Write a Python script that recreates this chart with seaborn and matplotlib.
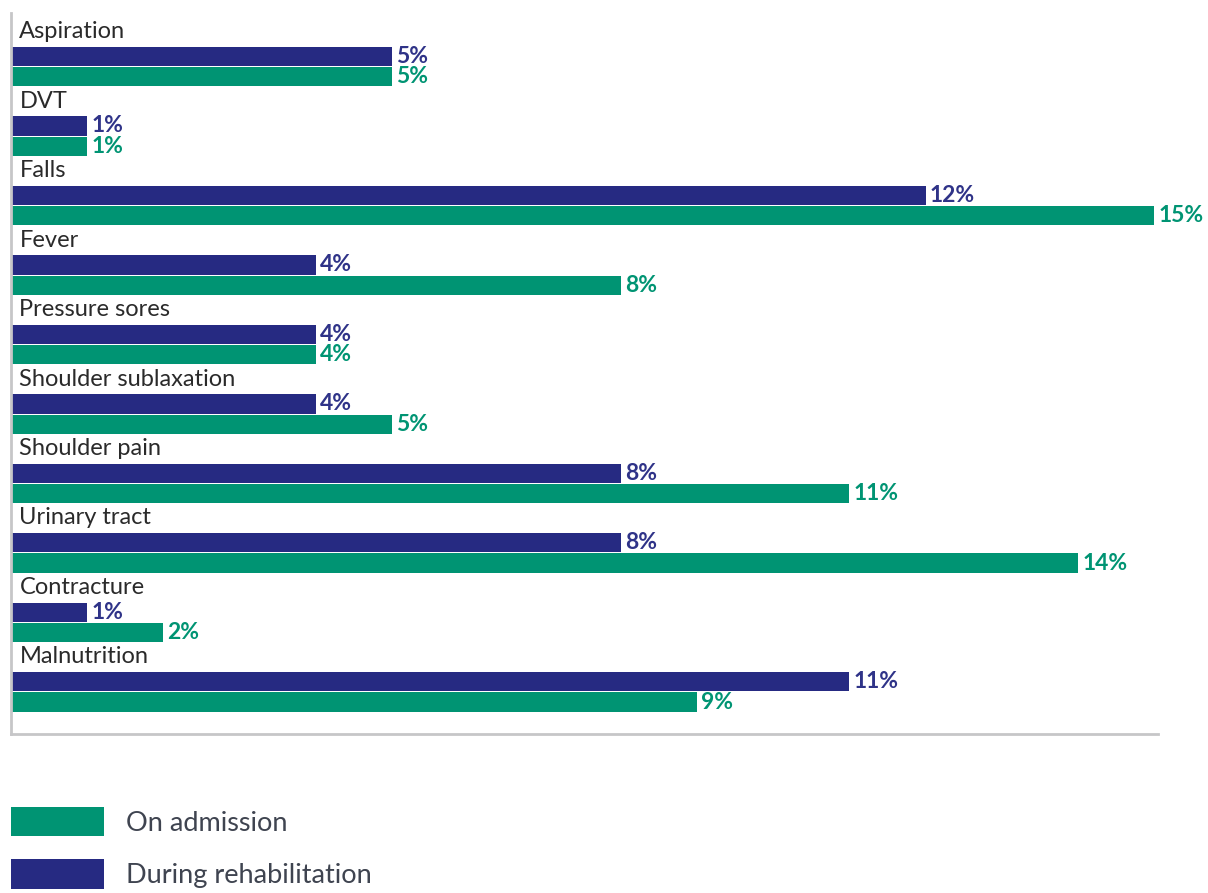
import matplotlib
matplotlib.use("Agg")
import matplotlib.pyplot as plt
import seaborn as sns
import pandas as pd
from matplotlib.patches import Patch

categories = ["Aspiration", "DVT", "Falls", "Fever", "Pressure sores",
              "Shoulder sublaxation", "Shoulder pain", "Urinary tract",
              "Contracture", "Malnutrition"]
during_rehab = [5, 1, 12, 4, 4, 4, 8, 8, 1, 11]
on_admission = [5, 1, 15, 8, 4, 5, 11, 14, 2, 9]
series_names = ["During rehabilitation", "On admission"]
colors = {"During rehabilitation": "#262a82", "On admission": "#009473"}

df = pd.DataFrame({
    "category": categories * 2,
    "value": during_rehab + on_admission,
    "series": [series_names[0]] * len(categories) + [series_names[1]] * len(categories),
})

sns.set_style("white")
plt.rcParams["font.family"] = ["Lato", "DejaVu Sans"]

W, H = 1208, 893
fig = plt.figure(figsize=(W / 100, H / 100), dpi=100)
ax = fig.add_axes([11 / W, 1 - 734 / H, (1158 - 11) / W, (734 - 13) / H])

sns.barplot(data=df, y="category", x="value", hue="series", orient="h",
            hue_order=series_names, palette=colors, width=0.58, gap=0.05,
            legend=False, ax=ax, linewidth=0, saturation=1)

ax.set_xlim(0, 15.05)
ax.set_ylim(9.605, -0.771)
ax.set_xlabel("")
ax.set_ylabel("")
ax.set_xticks([])
ax.set_yticks([])
for s in ["top", "right"]:
    ax.spines[s].set_visible(False)
for s in ["left", "bottom"]:
    ax.spines[s].set_color("#c6c6c8")
    ax.spines[s].set_linewidth(2)

label_colors = {"During rehabilitation": "#2f3388", "On admission": "#009473"}
for cont, name in zip(ax.containers, series_names):
    ax.bar_label(cont, fmt="%d%%", padding=3, color=label_colors[name],
                 fontsize=16.5, fontweight="bold")

for i, cat in enumerate(categories):
    ax.text(0.11, i - 0.41, cat, fontsize=17, color="#2a2a2a",
            va="baseline", ha="left")

fs = 19.5
px = fs * 100 / 72
handles = [Patch(facecolor=colors["On admission"], edgecolor="none"),
           Patch(facecolor=colors["During rehabilitation"], edgecolor="none")]
fig.legend(handles, ["On admission", "During rehabilitation"],
           loc="upper left", bbox_to_anchor=(11 / W, 1 - 807 / H),
           frameon=False, handlelength=93 / px,
           handleheight=35 / px,
           handletextpad=0.8, labelspacing=(52 - 35 + 6) / px,
           borderpad=0, borderaxespad=0,
           prop={"size": fs},
           labelcolor="#3f4450")

fig.savefig("out.png", dpi=100)
